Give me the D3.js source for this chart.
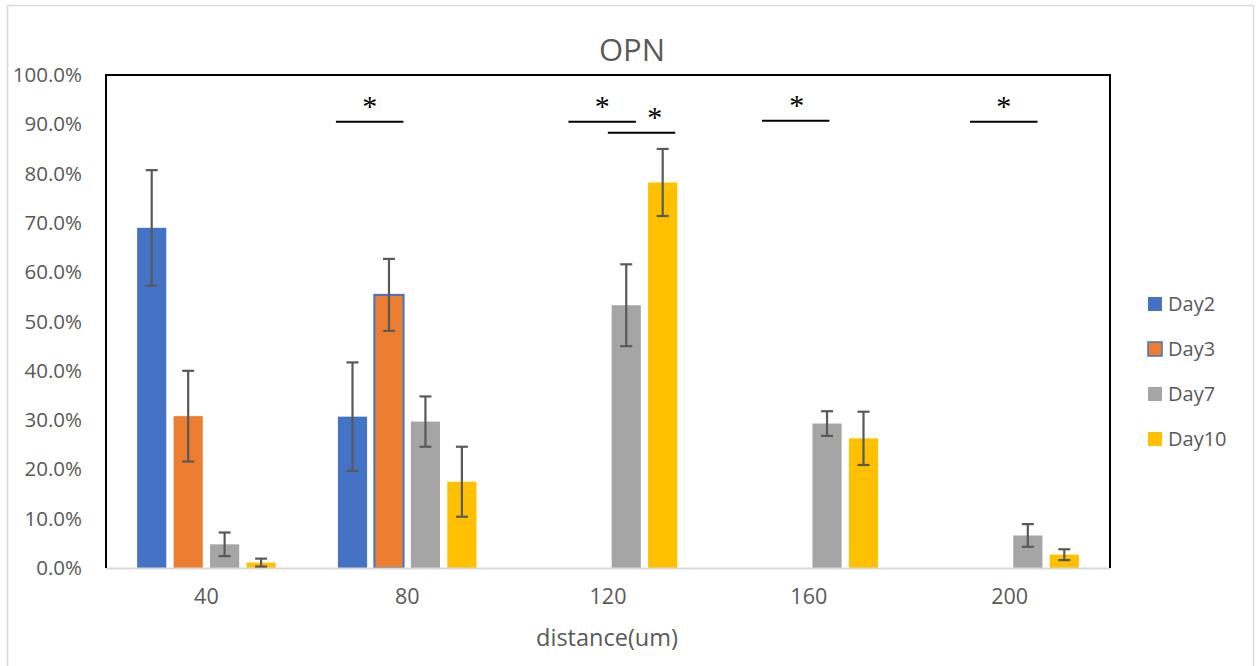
<!DOCTYPE html>
<html>
<head>
<meta charset="utf-8">
<script src="https://cdn.jsdelivr.net/npm/d3@7"></script>
<style>
  html, body { margin: 0; padding: 0; background: #fff; }
  svg { display: block; }
</style>
</head>
<body>
<svg id="chart" width="1259" height="666"></svg>
<script>
// Distances (um) along the x axis
const categories = ["40", "80", "120", "160", "200"];
const seriesNames = ["Day2", "Day3", "Day7", "Day10"];

// Mean fraction per distance, one array per day (null = not measured)
const day2Values  = [0.690, 0.307, null, null, null];
const day3Values  = [0.308, 0.554, null, null, null];
const day7Values  = [0.048, 0.297, 0.533, 0.293, 0.066];
const day10Values = [0.011, 0.175, 0.782, 0.263, 0.027];

// Error bar half-widths
const day2Errors  = [0.117, 0.110, null, null, null];
const day3Errors  = [0.092, 0.073, null, null, null];
const day7Errors  = [0.024, 0.051, 0.083, 0.025, 0.023];
const day10Errors = [0.008, 0.071, 0.068, 0.054, 0.011];

const yTicks = [0, 0.1, 0.2, 0.3, 0.4, 0.5, 0.6, 0.7, 0.8, 0.9, 1.0];

// Significance brackets: distance, bracket level, centre offset and asterisk shift (in bar slots)
const sigCategories = ["80", "120", "120", "160", "200"];
const sigLevels     = [0.905, 0.905, 0.883, 0.907, 0.905];
const sigOffsets    = [-1.03, -0.16, 0.92, -0.36, -0.16];
const sigStarShift  = [0, 0, 0.365, 0.03, 0];

const colors = { Day2: "#4472C4", Day3: "#ED7D31", Day7: "#A5A5A5", Day10: "#FFC000" };

const valuesBySeries = { Day2: day2Values, Day3: day3Values, Day7: day7Values, Day10: day10Values };
const errorsBySeries = { Day2: day2Errors, Day3: day3Errors, Day7: day7Errors, Day10: day10Errors };

const svg = d3.select("#chart");
const font = "'Open Sans', 'Noto Sans', sans-serif";
const textGray = "#595959";

// outer chart frame
svg.append("rect")
  .attr("x", 7.5).attr("y", 5.5).attr("width", 1246).attr("height", 680)
  .attr("fill", "#fff").attr("stroke", "#d9d9d9").attr("stroke-width", 1.5);

const plot = { left: 106, right: 1110, top: 75, bottom: 568 };

const x0 = d3.scaleBand().domain(categories).range([plot.left, plot.right]).padding(0);
const bw = x0.bandwidth();
const x1 = d3.scaleBand().domain(seriesNames).range([bw * 0.155, bw * 0.845]).paddingInner(0.2);
const y = d3.scaleLinear().domain([0, 1]).range([plot.bottom, plot.top]);

// title
svg.append("text")
  .attr("x", 632).attr("y", 61)
  .attr("text-anchor", "middle")
  .attr("font-family", font).attr("font-size", 31)
  .attr("fill", textGray)
  .text("OPN");

// y axis labels
const yAxis = d3.axisLeft(y).tickValues(yTicks).tickFormat(d3.format(".1%")).tickSize(0).tickPadding(24);
const yG = svg.append("g").attr("transform", `translate(${plot.left},0)`).call(yAxis);
yG.select(".domain").remove();
yG.selectAll("text").attr("font-family", font).attr("font-size", 20.5).attr("fill", textGray);

// x axis labels
const xAxis = d3.axisBottom(x0).tickSize(0).tickPadding(21);
const xG = svg.append("g").attr("transform", `translate(0,${plot.bottom})`).call(xAxis);
xG.select(".domain").remove();
xG.selectAll("text").attr("font-family", font).attr("font-size", 21.5).attr("fill", textGray);

// x axis title
svg.append("text")
  .attr("x", 607).attr("y", 646)
  .attr("text-anchor", "middle")
  .attr("font-family", font).attr("font-size", 23.5)
  .attr("fill", textGray)
  .text("distance(um)");

// rows for bars
const rows = [];
seriesNames.forEach(s => {
  categories.forEach((c, i) => {
    const v = valuesBySeries[s][i];
    if (v !== null) rows.push({ series: s, category: c, value: v, error: errorsBySeries[s][i] });
  });
});

// the Day3 bar at 80 um carries a blue outline
const outlined = d => d.series === "Day3" && d.category === "80";

const barG = svg.append("g");
barG.selectAll("rect")
  .data(rows)
  .join("rect")
  .attr("x", d => x0(d.category) + x1(d.series))
  .attr("y", d => y(d.value))
  .attr("width", x1.bandwidth())
  .attr("height", d => y(0) - y(d.value))
  .attr("fill", d => colors[d.series])
  .attr("stroke", d => outlined(d) ? "#4472C4" : "none")
  .attr("stroke-width", 2);

// bottom axis line
svg.append("line")
  .attr("x1", plot.left).attr("x2", plot.right)
  .attr("y1", plot.bottom + 0.5).attr("y2", plot.bottom + 0.5)
  .attr("stroke", "#d9d9d9").attr("stroke-width", 2);

// plot frame: top, left, right
svg.append("path")
  .attr("d", `M${plot.left},${plot.bottom} V${plot.top} H${plot.right} V${plot.bottom}`)
  .attr("fill", "none").attr("stroke", "#000").attr("stroke-width", 2);

// error bars
const errG = svg.append("g").attr("stroke", "#595959").attr("stroke-width", 2.2).attr("fill", "none");
const capHalf = 6;
rows.forEach(d => {
  const cx = x0(d.category) + x1(d.series) + x1.bandwidth() / 2;
  const yHi = y(d.value + d.error);
  const yLo = y(Math.max(0, d.value - d.error));
  errG.append("line").attr("x1", cx).attr("x2", cx).attr("y1", yHi).attr("y2", yLo);
  errG.append("line").attr("x1", cx - capHalf).attr("x2", cx + capHalf).attr("y1", yHi).attr("y2", yHi);
  errG.append("line").attr("x1", cx - capHalf).attr("x2", cx + capHalf).attr("y1", yLo).attr("y2", yLo);
});

// significance brackets with asterisks
const sigG = svg.append("g");
const step = x1.step();
const bracketHalf = step * 0.925;
sigCategories.forEach((c, i) => {
  const cx = x0(c) + bw / 2 + sigOffsets[i] * step;
  const ly = y(sigLevels[i]);
  sigG.append("line")
    .attr("x1", cx - bracketHalf).attr("x2", cx + bracketHalf)
    .attr("y1", ly).attr("y2", ly)
    .attr("stroke", "#000").attr("stroke-width", 2);
  sigG.append("text")
    .attr("x", cx + sigStarShift[i] * step).attr("y", ly - 6)
    .attr("text-anchor", "middle")
    .attr("font-family", "'Liberation Serif', 'DejaVu Serif', serif")
    .attr("font-size", 30)
    .attr("fill", "#000")
    .text("*");
});

// legend
const legend = svg.append("g");
seriesNames.forEach((s, i) => {
  const cy = 304 + i * 45;
  legend.append("rect")
    .attr("x", 1148).attr("y", cy - 7).attr("width", 14).attr("height", 14)
    .attr("fill", colors[s])
    .attr("stroke", s === "Day3" ? "#4472C4" : "none")
    .attr("stroke-width", 1.5);
  legend.append("text")
    .attr("x", 1168).attr("y", cy)
    .attr("dy", "0.35em")
    .attr("font-family", font).attr("font-size", 20)
    .attr("fill", textGray)
    .text(s);
});
</script>
</body>
</html>
